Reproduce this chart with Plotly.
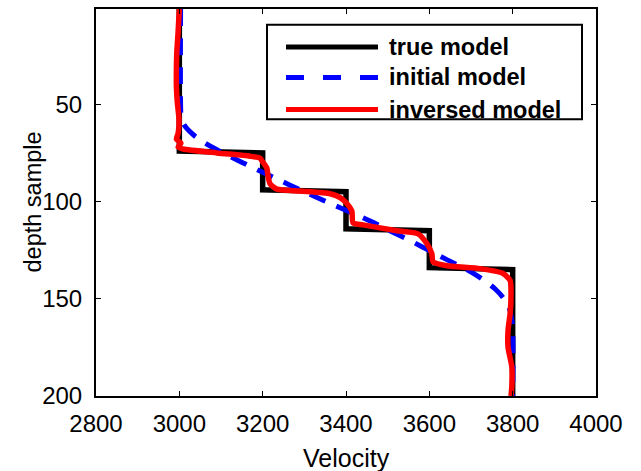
import plotly.graph_objects as go

# ---- data ----
true_depth = [1, 74, 75, 94, 95, 114, 115, 134, 135, 200]
true_vel = [3000, 3000, 3200, 3200, 3400, 3400, 3600, 3600, 3800, 3800]

init_depth = [1, 50, 55, 60, 65, 70, 75, 80, 85, 90, 95, 100, 105, 110, 115, 120,
              125, 130, 135, 140, 145, 150, 155, 160, 165, 200]
init_vel = [3003, 3003, 3004, 3010, 3030, 3062, 3105, 3152, 3200, 3250, 3300, 3352,
            3405, 3458, 3505, 3553, 3598, 3643, 3690, 3728, 3758, 3779, 3792, 3797,
            3800, 3800]

inv_depth = [1, 13, 23, 31, 41, 48.6, 57, 61, 65, 68, 70, 72, 73, 75, 76.7, 77.7, 79,
             82.8, 87, 91, 93.6, 94.6, 96, 98, 101, 104.8, 111, 112, 115, 116.6, 121.6,
             126.8, 131, 133, 134.5, 137, 140.6, 149, 157.5, 166, 175, 185, 195, 200]
inv_vel = [3000, 2997, 2994, 2993, 2993, 2995, 2999, 2999, 2997, 2993, 3004, 2997, 3009,
           3090, 3170, 3194, 3198, 3210, 3213, 3218, 3234, 3290, 3362, 3386, 3402, 3414,
           3417, 3441, 3522, 3573, 3594, 3606, 3609, 3642, 3722, 3777, 3794, 3796, 3794,
           3789, 3789, 3798, 3798, 3796]

legend_names = ["true model", "initial model", "inversed model"]
x_ticks = [2800, 3000, 3200, 3400, 3600, 3800, 4000]
y_ticks = [50, 100, 150, 200]
x_title = "Velocity"
y_title = "depth sample"

FONT = "Liberation Sans, Arial, Helvetica, sans-serif"

fig = go.Figure()
fig.add_trace(go.Scatter(x=true_vel, y=true_depth, mode="lines",
                         line=dict(color="#000000", width=5.5), name=legend_names[0]))
fig.add_trace(go.Scatter(x=init_vel, y=init_depth, mode="lines",
                         line=dict(color="#0000FF", width=5, dash="17px,12px", shape="spline"),
                         name=legend_names[1]))
fig.add_trace(go.Scatter(x=inv_vel, y=inv_depth, mode="lines",
                         line=dict(color="#FF0000", width=5.5, shape="spline", smoothing=0.6),
                         name=legend_names[2]))

# ---- manual legend (MATLAB style) ----
lx0, lx1 = 0.342, 0.972
ly0, ly1 = 0.715, 0.959
fig.add_shape(type="rect", xref="paper", yref="paper", x0=lx0, x1=lx1, y0=ly0, y1=ly1,
              line=dict(color="black", width=2), fillcolor="white", layer="above")
rows = [0.902, 0.823, 0.740]
styles = [dict(color="#000000", width=5),
          dict(color="#0000FF", width=5, dash="18px,19px"),
          dict(color="#FF0000", width=5)]
for name, yr, st in zip(legend_names, rows, styles):
    fig.add_shape(type="line", xref="paper", yref="paper", x0=0.38, x1=0.564, y0=yr, y1=yr,
                  line=st, layer="above")
    fig.add_annotation(xref="paper", yref="paper", x=0.582, y=yr, text="<b>%s</b>" % name,
                       showarrow=False, xanchor="left", yanchor="middle",
                       font=dict(family=FONT, size=23.5, color="black"))

# ---- axis titles ----
fig.add_annotation(xref="paper", yref="paper", x=0.5, y=-0.159, text=x_title,
                   showarrow=False, xanchor="center", yanchor="middle",
                   font=dict(family=FONT, size=25, color="black"))
fig.add_annotation(xref="paper", yref="paper", x=-0.128, y=0.5, text=y_title,
                   showarrow=False, xanchor="center", yanchor="middle", textangle=-90,
                   font=dict(family=FONT, size=23.5, color="black"))

axis_common = dict(showgrid=False, zeroline=False, showline=True, linecolor="black",
                   linewidth=2, mirror="allticks", ticks="inside", ticklen=5, tickwidth=1,
                   tickcolor="black", tickfont=dict(family=FONT, size=24, color="black"))

fig.update_xaxes(range=[2800, 4000], tickvals=x_ticks, ticklabelstandoff=5, **axis_common)
fig.update_yaxes(range=[200, 1], tickvals=y_ticks, ticklabelstandoff=7, **axis_common)

fig.update_layout(width=641, height=471, margin=dict(l=96, r=45, t=7, b=75),
                  plot_bgcolor="white", paper_bgcolor="white", showlegend=False)

fig.write_html("out.html")
